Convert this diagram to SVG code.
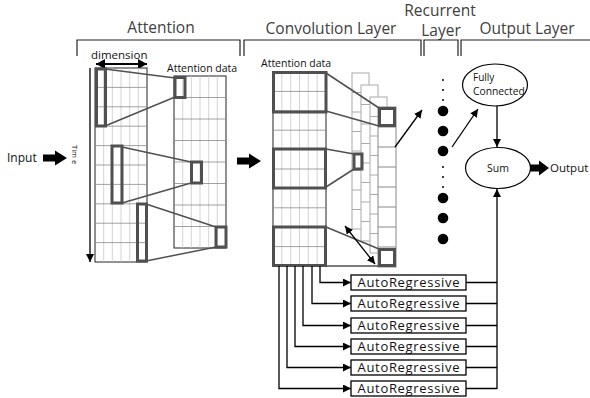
<svg xmlns="http://www.w3.org/2000/svg" width="590" height="398" viewBox="0 0 590 398">
<style>
text{font-family:"Open Sans","Liberation Sans",sans-serif;fill:#111}
.hdr{font-size:15.5px;fill:#404040}
.lbl{font-size:10.5px}
.brk{fill:none;stroke:#222;stroke-width:1.2}
.frame{fill:#fff;stroke:#222;stroke-width:1}
.gmaj{fill:none;stroke:#8a8a8a;stroke-width:0.8}
.gmin{fill:none;stroke:#c8c8c8;stroke-width:0.8}
.bold{fill:none;stroke:#505050;stroke-width:3}
.link{fill:none;stroke:#505050;stroke-width:1.5}
.col{fill:#fff;stroke:#aaa;stroke-width:1}
.colD{fill:#fff;stroke:#888;stroke-width:1}
.arr{fill:none;stroke:#000;stroke-width:1.3}
.ar{fill:#fff;stroke:#000;stroke-width:1.3}
.art{font-size:13px}
.big{fill:#000}
</style>
<defs>
<marker id="ah" markerUnits="userSpaceOnUse" markerWidth="8" markerHeight="8" refX="8" refY="4" orient="auto-start-reverse"><path d="M0,0L8,4L0,8z" fill="#000"/></marker>
<marker id="ahb" markerUnits="userSpaceOnUse" markerWidth="9" markerHeight="10" refX="9" refY="5" orient="auto-start-reverse"><path d="M0,0L9,5L0,10z" fill="#000"/></marker>
<path id="fat" d="M0 -3.5H12V-7.5L24 0L12 7.5V3.5H0Z" fill="#000"/>
</defs>

<g id="headers">
<text class="hdr" x="161" y="33" text-anchor="middle">Attention</text>
<text class="hdr" x="331" y="34" text-anchor="middle">Convolution Layer</text>
<text class="hdr" x="440" y="15.5" text-anchor="middle" font-size="13.5">Recurrent</text>
<text class="hdr" x="441" y="35.5" text-anchor="middle" font-size="13.5">Layer</text>
<text class="hdr" x="527" y="34" text-anchor="middle">Output Layer</text>
<path class="brk" d="M77 56V40H240V56"/>
<path class="brk" d="M244 56V40H421V56"/>
<path class="brk" d="M424 56V40H458V56"/>
<path class="brk" d="M461 56V40H590"/>
</g>

<g id="input">
<text x="7" y="162" font-size="12">Input</text>
<use href="#fat" x="43" y="158"/>
</g>

<g id="attention">
<text x="91" y="59" font-size="11.5">dimension</text>
<line x1="96" y1="64" x2="147" y2="64" stroke="#000" stroke-width="2" marker-start="url(#ahb)" marker-end="url(#ahb)"/>
<line class="arr" x1="90" y1="68" x2="90" y2="262" marker-end="url(#ah)"/>
<text transform="translate(72,145) rotate(90)" font-size="7.5">Tim e</text>
<rect class="frame" x="95" y="68" width="52" height="194"/>
<path class="gmin" d="M103.7 68V262M112.3 68V262M121 68V262M129.7 68V262M138.3 68V262"/>
<path class="gmaj" d="M95 87.4H147M95 106.8H147M95 126.2H147M95 145.6H147M95 165H147M95 184.4H147M95 203.8H147M95 223.2H147M95 242.6H147"/>
<rect class="bold" x="96.5" y="69" width="9" height="57"/>
<rect class="bold" x="112" y="146" width="10" height="57"/>
<rect class="bold" x="137.5" y="204" width="9" height="57"/>
<text class="lbl" x="167" y="72">Attention data</text>
<rect class="frame" x="174" y="76" width="52" height="172"/>
<path class="gmin" d="M182.7 76V248M191.3 76V248M200 76V248M208.7 76V248M217.3 76V248"/>
<path class="gmaj" d="M174 97.5H226M174 119H226M174 140.5H226M174 162H226M174 183.5H226M174 205H226M174 226.5H226"/>
<rect class="bold" x="175" y="77.5" width="10" height="20"/>
<rect class="bold" x="191.5" y="162" width="10" height="21"/>
<rect class="bold" x="216" y="227" width="10" height="20"/>
<path class="link" d="M105 69L175 78M105 126L175 97M122 147L191 162M122 203L191 183M146 204L216 227M146 261L216 247"/>
</g>

<g id="arrow-to-conv"><use href="#fat" x="237" y="161"/></g>

<g id="convolution">
<text class="lbl" x="261" y="67">Attention data</text>
<rect class="frame" x="273" y="72" width="53" height="194"/>
<path class="gmin" d="M281.8 72V266M290.7 72V266M299.5 72V266M308.3 72V266M317.2 72V266"/>
<path class="gmaj" d="M273 91.4H326M273 110.8H326M273 130.2H326M273 149.6H326M273 169H326M273 188.4H326M273 207.8H326M273 227.2H326M273 246.6H326"/>
<rect class="bold" x="273.5" y="72.5" width="52.5" height="39.5"/>
<rect class="bold" x="273.5" y="149" width="52" height="39"/>
<rect class="bold" x="273.5" y="227" width="52" height="38.5"/>
<rect class="col" x="352" y="73" width="17" height="156"/>
<path class="col" d="M352 92.5H369M352 112H369M352 131.5H369M352 151H369M352 170.5H369M352 190H369M352 209.5H369"/>
<rect class="col" x="361" y="85" width="17" height="156"/>
<path class="col" d="M361 104.5H378M361 124H378M361 143.5H378M361 163H378M361 182.5H378M361 202H378M361 221.5H378"/>
<rect class="col" x="370" y="97" width="17" height="156"/>
<path class="col" d="M370 116.5H387M370 136H387M370 155.5H387M370 175H387M370 194.5H387M370 214H387M370 233.5H387"/>
<rect class="colD" x="378" y="107" width="18" height="160"/>
<path class="colD" d="M378 127H396M378 147H396M378 167H396M378 187H396M378 207H396M378 227H396M378 247H396"/>
<rect class="bold" x="379.5" y="108.5" width="15" height="17"/>
<rect class="bold" x="379.5" y="249.5" width="15" height="16"/>
<rect class="bold" x="354" y="154" width="8" height="15"/>
<path class="link" d="M326 73L379 108M326 111L379 126M326 149L354 154M326 187L354 169M326 227L379 249M326 266H379"/>
<line class="arr" x1="345" y1="226" x2="375" y2="264" marker-start="url(#ah)" marker-end="url(#ah)"/>
</g>

<g id="recurrent">
<circle cx="443" cy="80" r="1"/><circle cx="443" cy="90" r="1"/><circle cx="443" cy="100" r="1"/>
<circle class="big" cx="443" cy="111" r="5.3"/><circle class="big" cx="443" cy="131" r="5.3"/><circle class="big" cx="443" cy="151" r="5.3"/>
<circle cx="443" cy="167" r="1"/><circle cx="443" cy="177" r="1"/><circle cx="443" cy="187" r="1"/>
<circle class="big" cx="443" cy="198" r="5.3"/><circle class="big" cx="443" cy="218" r="5.3"/><circle class="big" cx="443" cy="239" r="5.3"/>
</g>

<g id="fully-connected">
<ellipse cx="495" cy="85" rx="32.5" ry="21" fill="#fff" stroke="#000" stroke-width="1.2"/>
<text x="473" y="81" font-size="10">Fully</text>
<text x="473" y="95" font-size="10.3">Connected</text>
</g>

<g id="sum">
<ellipse cx="498" cy="168" rx="32.5" ry="20.5" fill="#fff" stroke="#000" stroke-width="1.2"/>
<text x="498" y="172" font-size="10.5" text-anchor="middle">Sum</text>
</g>

<g id="output">
<path d="M530 164.5H539V160.5L549 168L539 175.5V171.5H530Z" fill="#000"/>
<text x="550" y="172" font-size="11.5">Output</text>
</g>

<g id="ar1"><rect class="ar" x="351" y="275" width="115" height="15"/><text class="art" x="408.5" y="287" text-anchor="middle" textLength="102">AutoRegressive</text></g>
<g id="ar2"><rect class="ar" x="351" y="296" width="115" height="15"/><text class="art" x="408.5" y="308" text-anchor="middle" textLength="102">AutoRegressive</text></g>
<g id="ar3"><rect class="ar" x="351" y="318" width="115" height="15"/><text class="art" x="408.5" y="330" text-anchor="middle" textLength="102">AutoRegressive</text></g>
<g id="ar4"><rect class="ar" x="351" y="339" width="115" height="15"/><text class="art" x="408.5" y="351" text-anchor="middle" textLength="102">AutoRegressive</text></g>
<g id="ar5"><rect class="ar" x="351" y="360" width="115" height="15"/><text class="art" x="408.5" y="372" text-anchor="middle" textLength="102">AutoRegressive</text></g>
<g id="ar6"><rect class="ar" x="351" y="381" width="115" height="15"/><text class="art" x="408.5" y="393" text-anchor="middle" textLength="102">AutoRegressive</text></g>

<g id="connectors">
<line class="arr" x1="395" y1="147" x2="422" y2="110" marker-end="url(#ah)"/>
<line class="arr" x1="452" y1="147" x2="478" y2="109" marker-end="url(#ah)"/>
<line class="arr" x1="497" y1="106" x2="497" y2="147" marker-end="url(#ah)"/>
<path class="arr" d="M320 266V282.5H351" marker-end="url(#ah)"/>
<path class="arr" d="M312 266V303.5H351" marker-end="url(#ah)"/>
<path class="arr" d="M303 266V325.5H351" marker-end="url(#ah)"/>
<path class="arr" d="M295 266V346.5H351" marker-end="url(#ah)"/>
<path class="arr" d="M287 266V367.5H351" marker-end="url(#ah)"/>
<path class="arr" d="M279 266V388.5H351" marker-end="url(#ah)"/>
<path class="arr" d="M466 282.5H497M466 303.5H497M466 325.5H497M466 346.5H497M466 367.5H497M466 388.5H497"/>
<line class="arr" x1="497" y1="389" x2="497" y2="189" marker-end="url(#ah)"/>
</g>
</svg>
